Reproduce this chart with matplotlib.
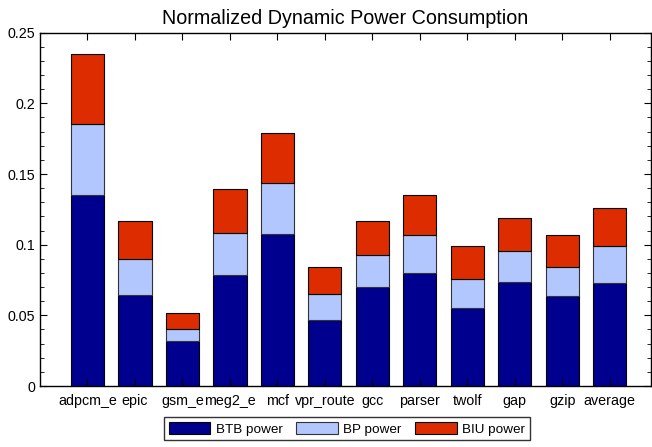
import numpy as np
import matplotlib
matplotlib.use('Agg')
import matplotlib.pyplot as plt
from matplotlib.ticker import MultipleLocator, FuncFormatter

plt.rcParams['font.family'] = ['Liberation Sans', 'DejaVu Sans']

benchmarks = ['adpcm_e', 'epic', 'gsm_e', 'meg2_e', 'mcf', 'vpr_route',
              'gcc', 'parser', 'twolf', 'gap', 'gzip', 'average']
# cumulative tops
btb_top = [0.1352, 0.0644, 0.0316, 0.0783, 0.1073, 0.0465,
           0.0698, 0.0800, 0.0550, 0.0734, 0.0635, 0.0731]
bp_top = [0.1852, 0.0896, 0.0401, 0.1081, 0.1439, 0.0651,
          0.0927, 0.1071, 0.0760, 0.0953, 0.0844, 0.0989]
biu_top = [0.2347, 0.1170, 0.0519, 0.1396, 0.1788, 0.0844,
           0.1170, 0.1350, 0.0989, 0.1189, 0.1069, 0.1257]

btb = np.array(btb_top)
bp = np.array(bp_top) - btb
biu = np.array(biu_top) - np.array(bp_top)

x = np.arange(1, len(benchmarks) + 1)
w = 0.7

fig = plt.figure(figsize=(6.52, 4.47), dpi=100)
ax = fig.add_axes([40/652, 61/447, 611/652, 353.3/447])

ax.bar(x, btb, w, color='#00008f', edgecolor='black', linewidth=0.8, label='BTB power')
ax.bar(x, bp, w, bottom=btb, color='#b3c7ff', edgecolor='#333333', linewidth=0.8, label='BP power')
ax.bar(x, biu, w, bottom=btb + bp, color='#dd2c00', edgecolor='black', linewidth=0.8, label='BIU power')

ax.set_xlim(0, 12.87)
ax.set_ylim(0, 0.25)
ax.set_xticks(x)
ax.set_xticklabels(benchmarks, fontsize=10.3)
ax.set_yticks([0, 0.05, 0.1, 0.15, 0.2, 0.25])
ax.yaxis.set_minor_locator(MultipleLocator(0.01))
ax.yaxis.set_major_formatter(FuncFormatter(lambda v, p: '%g' % round(v, 3)))
ax.tick_params(axis='y', labelsize=10.3)
ax.tick_params(direction='in', top=True, right=True, which='both')
ax.tick_params(which='major', length=5)
ax.tick_params(which='minor', length=3)
ax.tick_params(axis='x', pad=6)
for s in ax.spines.values():
    s.set_linewidth(1.0)

ax.set_title('Normalized Dynamic Power Consumption', fontsize=14.2, pad=6)

leg = fig.legend(loc='lower center', bbox_to_anchor=(0.532, 0.0), ncol=3, fontsize=9.7,
                 frameon=True, fancybox=False, edgecolor='black', handlelength=3.1,
                 handleheight=1.1, columnspacing=1.0, handletextpad=0.4, borderpad=0.35)
leg.get_frame().set_linewidth(1.0)

fig.savefig('out.png', dpi=100)
